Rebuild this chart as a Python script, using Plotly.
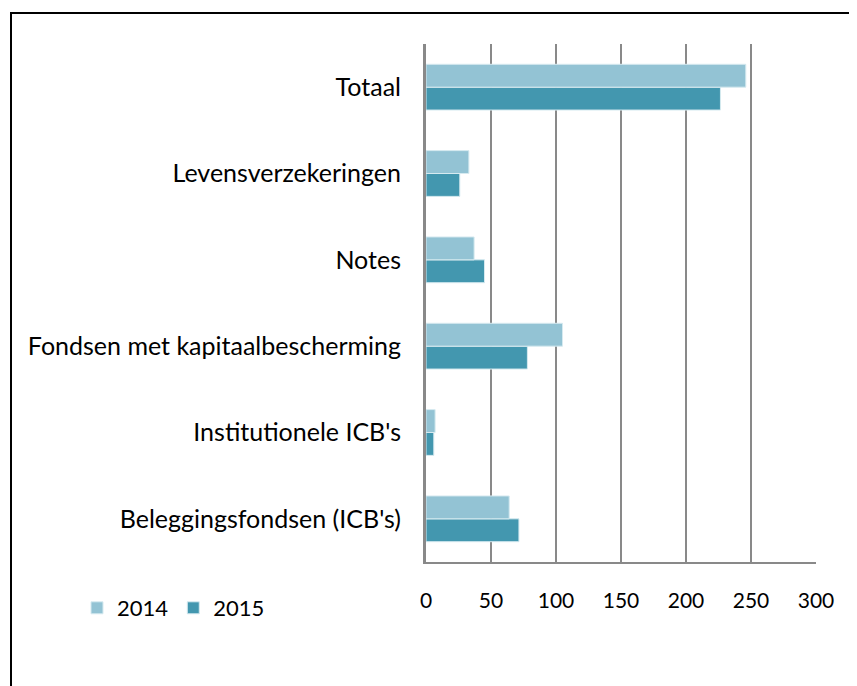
import plotly.graph_objects as go

categories = ["Beleggingsfondsen (ICB's)", "Institutionele ICB's", "Fondsen met kapitaalbescherming",
              "Notes", "Levensverzekeringen", "Totaal"]
values_2014 = [64, 7, 105, 37, 33, 246]
values_2015 = [71.5, 6, 78, 45, 26, 226.5]
x_ticks = [0, 50, 100, 150, 200, 250, 300]

c2014 = "#93C3D4"
c2015 = "#4397AF"
FONT = "Lato, Carlito, Calibri, sans-serif"

fig = go.Figure()
fig.add_trace(go.Bar(y=categories, x=values_2015, name="2015", orientation="h",
                     marker=dict(color=c2015, line=dict(color="#D6EAF0", width=1))))
fig.add_trace(go.Bar(y=categories, x=values_2014, name="2014", orientation="h",
                     marker=dict(color=c2014, line=dict(color="#D6EAF0", width=1))))

# page body has an 8px default margin; compensate
OFF = 8
W, H = 857, 686
L, R, T, B = 426 - OFF, 816 - OFF, 44 - OFF, 562 - OFF

def px_x(p):
    return (p - OFF - L) / (R - L)

def px_y(p):
    return (B - (p - OFF)) / (B - T)

fig.update_layout(
    width=W, height=H,
    margin=dict(l=L, r=W - R, t=T, b=H - B, autoexpand=False),
    paper_bgcolor="white", plot_bgcolor="white",
    barmode="group", bargap=0.47, bargroupgap=0,
    font=dict(family=FONT, size=20, color="#000000"),
    showlegend=True,
    legend=dict(orientation="h", x=px_x(77), y=px_y(608), xanchor="left", yanchor="middle",
                traceorder="reversed", font=dict(size=22), itemwidth=30,
                bgcolor="rgba(0,0,0,0)"),
    xaxis=dict(range=[0, 300], tickvals=x_ticks, showgrid=True, gridcolor="#898989", gridwidth=2,
               zeroline=False, showline=True, linecolor="#898989", linewidth=2,
               ticks="", ticklabelstandoff=19, tickfont=dict(size=21), fixedrange=True),
    yaxis=dict(categoryorder="array", categoryarray=categories, showgrid=False, zeroline=False,
               showline=True, linecolor="#898989", linewidth=3, ticks="", ticklabelstandoff=17,
               tickfont=dict(size=25)),
    shapes=[dict(type="rect", xref="paper", yref="paper",
                 x0=px_x(11), x1=px_x(900), y0=px_y(730), y1=px_y(13),
                 line=dict(color="black", width=2), fillcolor="rgba(0,0,0,0)", layer="above")],
)

fig.write_html("out.html")
